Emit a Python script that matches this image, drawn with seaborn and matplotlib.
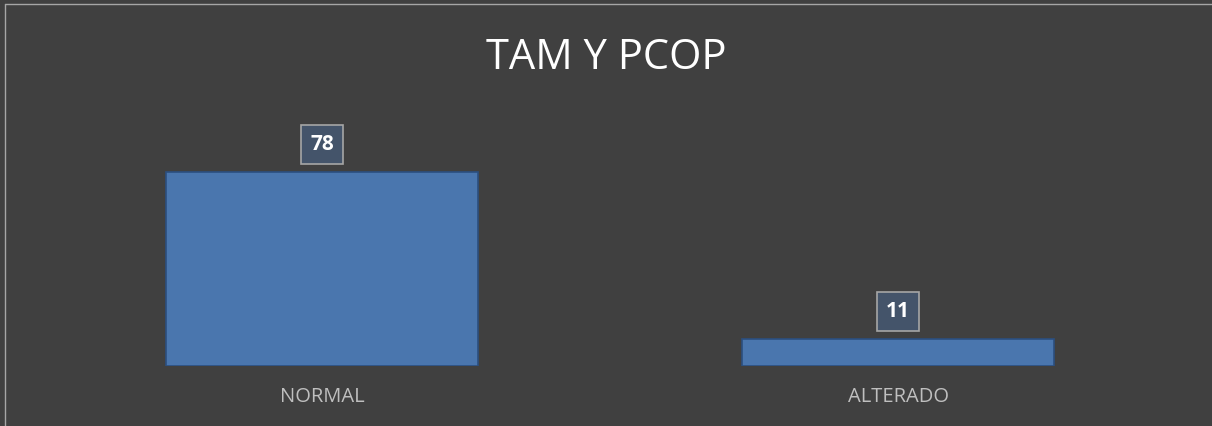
import matplotlib
matplotlib.use("Agg")
import matplotlib.pyplot as plt
import seaborn as sns
import pandas as pd

categories = ["NORMAL", "ALTERADO"]
values = [78, 11]
title = "TAM Y PCOP"

sns.set_theme(style="dark")
plt.rcParams['font.family'] = ['Open Sans', 'DejaVu Sans']

bg = "#404040"
fig = plt.figure(figsize=(12.12, 4.26), dpi=100, facecolor=bg)
W, H = 1212, 426
ax = fig.add_axes([34 / W, 1 - 366 / H, 1152 / W, (366 - 117) / H])
ax.set_facecolor(bg)

df = pd.DataFrame({"cat": categories, "val": values})
sns.barplot(data=df, x="cat", y="val", ax=ax, color="#4A76AE", width=0.54,
            edgecolor="#2B4F80", linewidth=1.2, saturation=1)
ax.set_xlim(-0.5, 1.5)
ax.set_ylim(0, 100)
for s in ax.spines.values():
    s.set_visible(False)
ax.set_yticks([])
ax.set_xlabel("")
ax.set_ylabel("")
ax.tick_params(axis="x", length=0, pad=15, colors="#BFBFBF", labelsize=14.5)
for lbl in ax.get_xticklabels():
    lbl.set_color("#BFBFBF")

for p, v in zip(ax.patches, values):
    x = p.get_x() + p.get_width() / 2
    ax.annotate(str(v), (x, p.get_height()), xytext=(0, 19.5), textcoords="offset points",
                ha="center", va="center", color="white", fontsize=15, fontweight="bold",
                bbox=dict(boxstyle="square,pad=0.42", fc="#44546A", ec="#A6A6A6", lw=1.2))

fig.text(0.5, 1 - 58 / H, title, ha="center", va="center", color="white", fontsize=30)

# thin frame lines at top-left
fig.add_artist(plt.Line2D([5 / W, 5 / W], [0, 1 - 4 / H], color="#A6A6A6", lw=1, transform=fig.transFigure))
fig.add_artist(plt.Line2D([5 / W, 1], [1 - 4 / H, 1 - 4 / H], color="#A6A6A6", lw=1, transform=fig.transFigure))

fig.savefig("out.png", dpi=100, facecolor=bg)
